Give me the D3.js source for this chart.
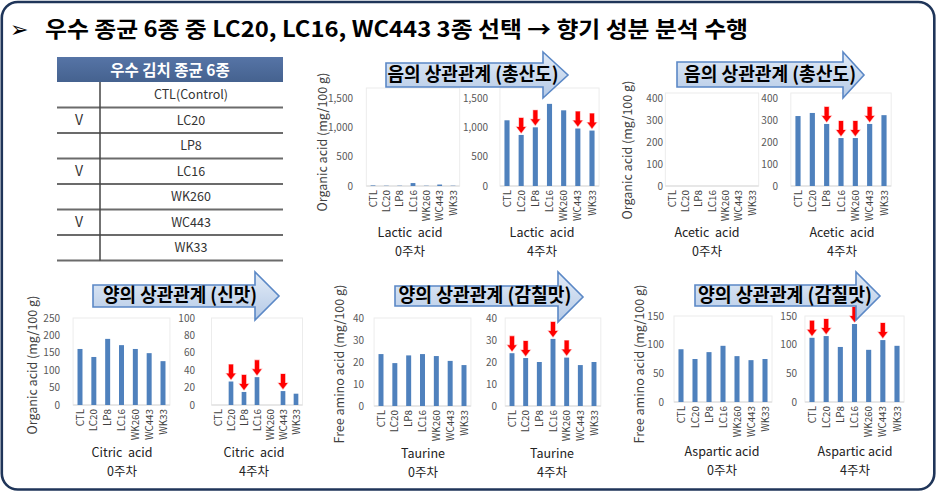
<!DOCTYPE html>
<html><head><meta charset="utf-8">
<script src="https://cdn.jsdelivr.net/npm/d3@7"></script>
<style>
html,body{margin:0;padding:0;background:#fff;}
svg{display:block;font-family:"Noto Sans CJK KR","Noto Sans",sans-serif;}
</style></head><body>
<svg id="chart" width="937" height="492"></svg>
<script>
// ---------- data ----------
const titleText = "우수 종균 6종 중 LC20, LC16, WC443 3종 선택 → 향기 성분 분석 수행";
const tableHeader = "우수 김치 종균 6종";
const tableRows = ["CTL(Control)", "LC20", "LP8", "LC16", "WK260", "WC443", "WK33"];
const tableChecked = [false, true, false, true, false, true, false];

const categories = ["CTL", "LC20", "LP8", "LC16", "WK260", "WC443", "WK33"];
const lactic0   = [10, 5, 5, 50, 5, 25, 5];
const lactic4   = [1120, 870, 1000, 1400, 1290, 980, 945];
const acetic0   = [0, 0, 0, 0, 0, 0, 0];
const acetic4   = [318, 332, 282, 218, 218, 282, 322];
const citric0   = [161, 138, 190, 172, 161, 149, 126];
const citric4   = [0, 27, 15, 32, 0, 16, 13];
const taurine0  = [23.6, 19.5, 23, 23.6, 22.7, 20.5, 18.6];
const taurine4  = [24, 21.8, 20, 30.5, 22, 18.6, 20];
const aspartic0 = [92, 75, 87, 98, 80, 73, 75];
const aspartic4 = [112, 115, 96, 136, 91, 108, 98];

const arrowsLactic4   = ["LC20", "LP8", "WC443", "WK33"];
const arrowsAcetic4   = ["LP8", "LC16", "WK260", "WC443"];
const arrowsCitric4   = ["LC20", "LP8", "LC16", "WC443"];
const arrowsTaurine4  = ["CTL", "LC20", "LC16", "WK260"];
const arrowsAspartic4 = ["CTL", "LC20", "LC16", "WC443"];

const ticksLactic   = [0, 500, 1000, 1500];
const ticksAcetic   = [0, 100, 200, 300, 400];
const ticksCitric0  = [0, 50, 100, 150, 200, 250];
const ticksCitric4  = [0, 20, 40, 60, 80, 100];
const ticksTaurine  = [0, 10, 20, 30, 40];
const ticksAspartic = [0, 50, 100, 150];

const compoundNames = ["Lactic  acid", "Acetic  acid", "Citric  acid", "Taurine", "Aspartic acid"];
const weekLabels = ["0주차", "4주차"];
const yTitles = ["Organic acid (mg/100 g)", "Free amino acid (mg/100 g)"];
const bannerTexts = ["음의 상관관계 (총산도)", "음의 상관관계 (총산도)", "양의 상관관계 (신맛)", "양의 상관관계 (감칠맛)", "양의 상관관계 (감칠맛)"];

// ---------- layout ----------
const svg = d3.select("#chart");
const defs = svg.append("defs");
const g1 = defs.append("linearGradient").attr("id", "bannerGrad").attr("x1", 0).attr("y1", 0).attr("x2", 0).attr("y2", 1);
g1.append("stop").attr("offset", "0%").attr("stop-color", "#e3ecf7");
g1.append("stop").attr("offset", "100%").attr("stop-color", "#b4c9e6");
const g2 = defs.append("linearGradient").attr("id", "hdrGrad").attr("x1", 0).attr("y1", 0).attr("x2", 0).attr("y2", 1);
g2.append("stop").attr("offset", "0%").attr("stop-color", "#5674a6");
g2.append("stop").attr("offset", "100%").attr("stop-color", "#45628f");

// frame
svg.append("rect").attr("x", 1.8).attr("y", 2).attr("width", 932.5).attr("height", 487.5)
  .attr("rx", 16).attr("fill", "#fff").attr("stroke", "#1f3559").attr("stroke-width", 2.6);

// title
svg.append("text").attr("x", 10).attr("y", 37).attr("font-family", "DejaVu Sans").attr("font-weight", 700)
  .attr("font-size", 22).attr("fill", "#000").text("➢");
svg.append("text").attr("x", 45).attr("y", 37).attr("font-size", 22).attr("font-weight", 700)
  .attr("fill", "#000").attr("textLength", 703).attr("lengthAdjust", "spacingAndGlyphs").text(titleText);

// table
const tX0 = 57, tX1 = 283, tHdrY0 = 57, tHdrY1 = 82, rowH = 25.5, colX = 100;
svg.append("rect").attr("x", tX0).attr("y", tHdrY0).attr("width", tX1 - tX0).attr("height", tHdrY1 - tHdrY0)
  .attr("fill", "url(#hdrGrad)");
svg.append("text").attr("x", (tX0 + tX1) / 2).attr("y", 75.5).attr("text-anchor", "middle")
  .attr("font-size", 15.5).attr("font-weight", 700).attr("fill", "#fff").text(tableHeader);
tableRows.forEach((r, i) => {
  const yTop = tHdrY1 + i * rowH;
  svg.append("line").attr("x1", tX0).attr("x2", tX1).attr("y1", yTop + rowH).attr("y2", yTop + rowH)
    .attr("stroke", "#6b6b6b").attr("stroke-width", 1.8);
  svg.append("text").attr("x", 191).attr("y", yTop + rowH / 2 + 4.5).attr("text-anchor", "middle")
    .attr("font-size", 12.5).attr("fill", "#333").text(r);
  if (tableChecked[i]) {
    svg.append("text").attr("x", 79).attr("y", yTop + rowH / 2 + 5).attr("text-anchor", "middle")
      .attr("font-size", 14).attr("font-weight", 400).attr("fill", "#333").text("V");
  }
});
svg.append("line").attr("x1", colX).attr("x2", colX).attr("y1", tHdrY1).attr("y2", tHdrY1 + rowH * tableRows.length)
  .attr("stroke", "#444").attr("stroke-width", 1.5);

// panels
const panels = [
  {v: lactic0, t: ticksLactic, c0: 373, cN: 453, yB: 186, yT: 98, tickX: 353, box: 88, name: 0, wk: 0, lx: 410, ny: 237, wy: 255.5, arrows: []},
  {v: lactic4, t: ticksLactic, c0: 507, cN: 592, yB: 186, yT: 98, tickX: 488, box: 88, name: 0, wk: 1, lx: 542, ny: 237, wy: 255.5, arrows: arrowsLactic4},
  {v: acetic0, t: ticksAcetic, c0: 672, cN: 752, yB: 186, yT: 98, tickX: 663, box: 93, name: 1, wk: 0, lx: 707, ny: 237, wy: 255.5, arrows: []},
  {v: acetic4, t: ticksAcetic, c0: 798, cN: 884, yB: 186, yT: 98, tickX: 778, box: 93, name: 1, wk: 1, lx: 842, ny: 237, wy: 255.5, arrows: arrowsAcetic4},
  {v: citric0, t: ticksCitric0, c0: 80, cN: 163, yB: 405, yT: 318, tickX: 60, box: 318, name: 2, wk: 0, lx: 122, ny: 457, wy: 476, arrows: []},
  {v: citric4, t: ticksCitric4, c0: 218, cN: 296, yB: 405, yT: 318, tickX: 195, box: 318, name: 2, wk: 1, lx: 254, ny: 457, wy: 476, arrows: arrowsCitric4},
  {v: taurine0, t: ticksTaurine, c0: 381, cN: 464, yB: 406, yT: 318, tickX: 364, box: 318, name: 3, wk: 0, lx: 423, ny: 457.5, wy: 476.5, arrows: []},
  {v: taurine4, t: ticksTaurine, c0: 512, cN: 594, yB: 406, yT: 318, tickX: 497, box: 318, name: 3, wk: 1, lx: 552, ny: 457.5, wy: 476.5, arrows: arrowsTaurine4},
  {v: aspartic0, t: ticksAspartic, c0: 681, cN: 765, yB: 402, yT: 316, tickX: 664, box: 316, name: 4, wk: 0, lx: 722, ny: 455.5, wy: 474.5, arrows: []},
  {v: aspartic4, t: ticksAspartic, c0: 812, cN: 897, yB: 402, yT: 316, tickX: 797, box: 316, name: 4, wk: 1, lx: 855, ny: 455.5, wy: 474.5, arrows: arrowsAspartic4}
];

const yTitleCfg = [
  {x: 323, y: 142, t: 0}, {x: 628, y: 150, t: 0}, {x: 33, y: 365, t: 0}, {x: 340, y: 364, t: 1}, {x: 640, y: 364, t: 1}
];

const gPlots = svg.append("g");
panels.forEach(p => {
  const step = (p.cN - p.c0) / (categories.length - 1);
  const x = d3.scaleBand().domain(categories).range([p.c0 - step / 2, p.cN + step / 2])
    .paddingInner(0.64).paddingOuter(0.32);
  const y = d3.scaleLinear().domain([0, d3.max(p.t)]).range([p.yB, p.yT]);
  const g = gPlots.append("g");
  const r = x.range();
  g.append("rect").attr("x", r[0]).attr("y", p.box).attr("width", r[1] - r[0]).attr("height", p.yB - p.box)
    .attr("fill", "#fff").attr("stroke", "#ececec").attr("stroke-width", 1);
  g.append("line").attr("x1", r[0]).attr("x2", r[1]).attr("y1", p.yB).attr("y2", p.yB)
    .attr("stroke", "#d9d9d9").attr("stroke-width", 1);
  const fmt = d3.format(",");
  g.selectAll(".tk").data(p.t).join("text").attr("x", p.tickX).attr("y", d => y(d) + 3.5)
    .attr("text-anchor", "end").attr("font-size", 10).attr("fill", "#595959").text(d => fmt(d));
  g.selectAll(".bar").data(categories.map((c, i) => ({c, v: p.v[i]}))).join("rect")
    .attr("x", d => x(d.c)).attr("width", x.bandwidth())
    .attr("y", d => y(d.v)).attr("height", d => p.yB - y(d.v)).attr("fill", "#4f81bd");
  g.selectAll(".cl").data(categories).join("text")
    .attr("transform", d => `translate(${x(d) + x.bandwidth() / 2 + 3.5},${p.yB + 4}) rotate(-90)`)
    .attr("text-anchor", "end").attr("font-size", 9.8).attr("fill", "#404040").text(d => d);
  g.append("text").attr("x", p.lx).attr("y", p.ny).attr("text-anchor", "middle").attr("font-size", 12.5)
    .attr("fill", "#222").style("white-space", "pre").text(compoundNames[p.name]);
  g.append("text").attr("x", p.lx).attr("y", p.wy).attr("text-anchor", "middle").attr("font-size", 12.5)
    .attr("fill", "#222").text(weekLabels[p.wk]);
  p.arrows.forEach(c => {
    const i = categories.indexOf(c);
    const cx = x(c) + x.bandwidth() / 2, tip = y(p.v[i]) - 2;
    const hw = 4.5, hh = 6, sw = 2.1, sh = 9;
    const path = `M${cx},${tip} L${cx - hw},${tip - hh} L${cx - sw},${tip - hh} L${cx - sw},${tip - hh - sh} L${cx + sw},${tip - hh - sh} L${cx + sw},${tip - hh} L${cx + hw},${tip - hh} Z`;
    g.append("path").attr("d", path).attr("fill", "#ff0000").attr("stroke", "#ffb3b3").attr("stroke-width", 1.2)
      .attr("paint-order", "stroke");
  });
});

yTitleCfg.forEach(c => {
  svg.append("text").attr("transform", `translate(${c.x + 4},${c.y}) rotate(-90)`).attr("text-anchor", "middle")
    .attr("font-size", 12.5).attr("fill", "#404040").text(yTitles[c.t]);
});

// banners
const banners = [
  {bx0: 386, by0: 63, by1: 87, hx: 543, hy0: 52, hy1: 98, tip: 568, tx: 473, ty: 81, tw: 171},
  {bx0: 677, by0: 62, by1: 87, hx: 843, hy0: 52, hy1: 98, tip: 864, tx: 770, ty: 81, tw: 172},
  {bx0: 93, by0: 285, by1: 307, hx: 255, hy0: 272, hy1: 320, tip: 279, tx: 180, ty: 302, tw: 154},
  {bx0: 395, by0: 286, by1: 306, hx: 558, hy0: 272, hy1: 322, tip: 583, tx: 485, ty: 302, tw: 173},
  {bx0: 695, by0: 285, by1: 306, hx: 856, hy0: 272, hy1: 320, tip: 880, tx: 785, ty: 302, tw: 174}
];
banners.forEach((b, i) => {
  const my = (b.hy0 + b.hy1) / 2;
  const d = `M${b.bx0},${b.by0} L${b.hx},${b.by0} L${b.hx},${b.hy0} L${b.tip},${my} L${b.hx},${b.hy1} L${b.hx},${b.by1} L${b.bx0},${b.by1} Z`;
  svg.append("path").attr("d", d).attr("fill", "url(#bannerGrad)").attr("stroke", "#5b88c6").attr("stroke-width", 1.6);
  svg.append("text").attr("x", b.tx).attr("y", b.ty).attr("text-anchor", "middle").attr("font-size", 19)
    .attr("font-weight", 700).attr("fill", "#000").attr("textLength", b.tw).attr("lengthAdjust", "spacingAndGlyphs")
    .text(bannerTexts[i]);
});
</script>
</body></html>
